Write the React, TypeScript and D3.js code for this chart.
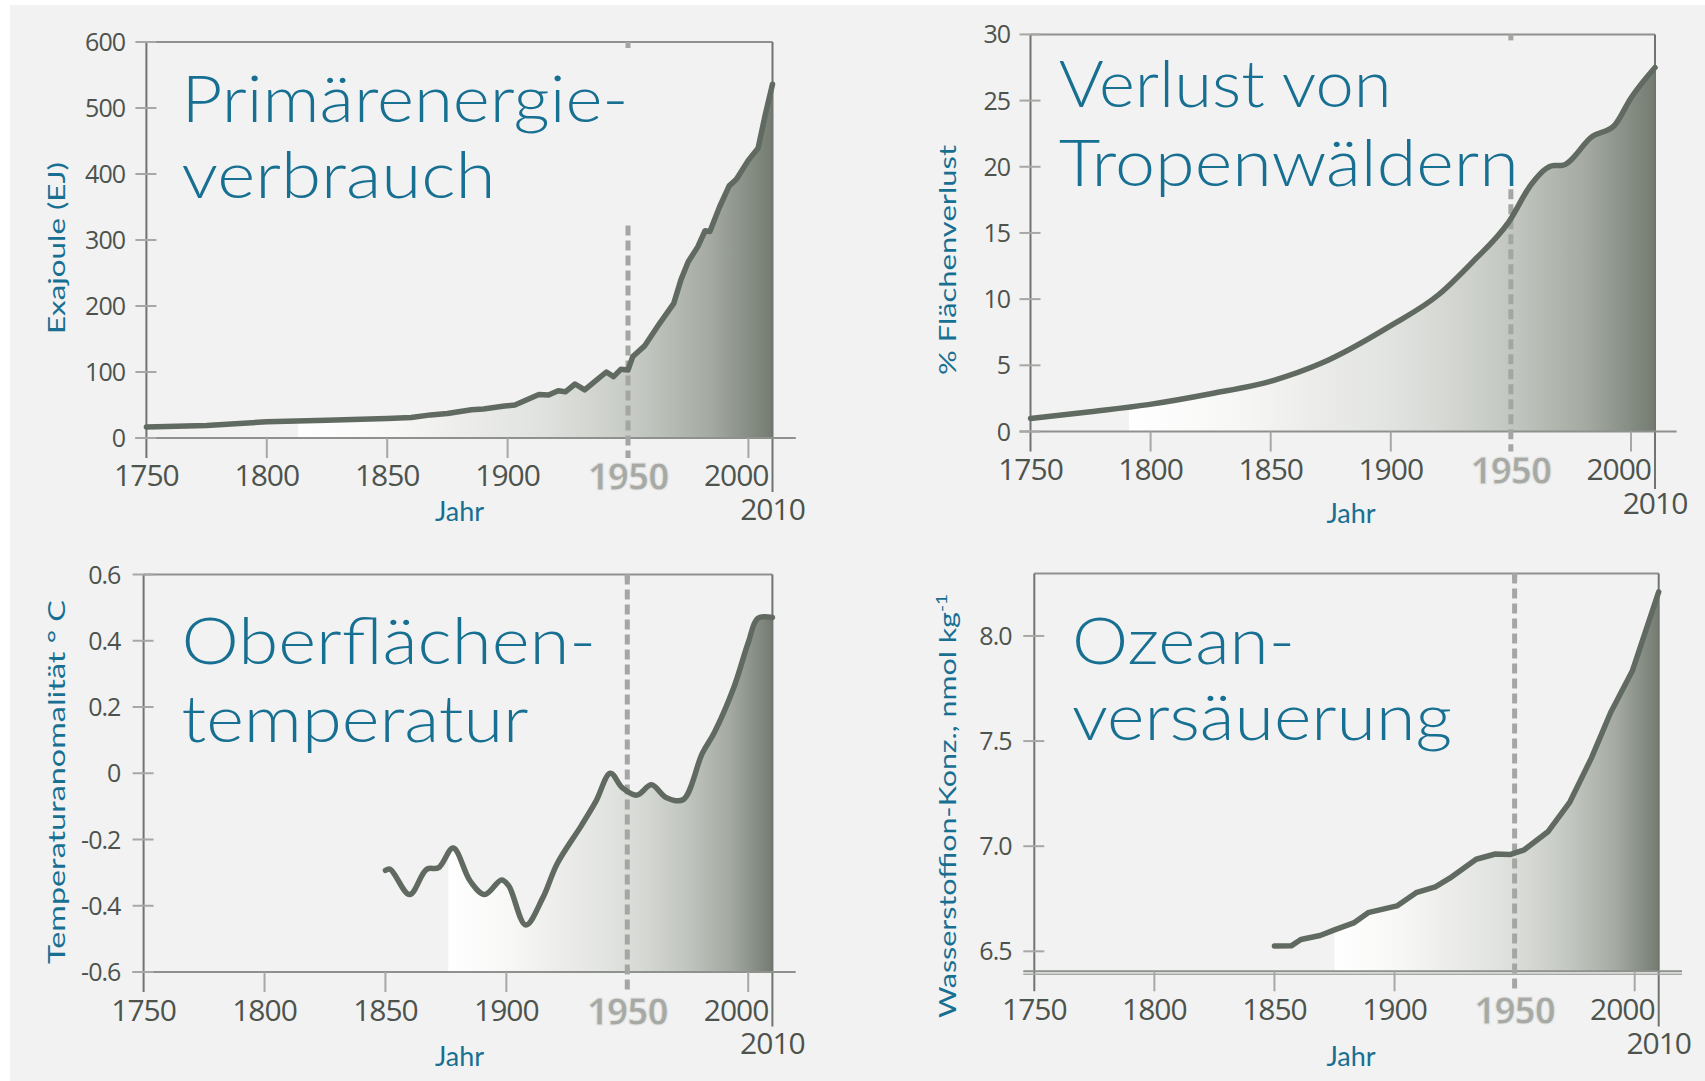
import React from 'react';
import * as d3 from 'd3';

// Primärenergieverbrauch (EJ)
const energyData: [number, number][] = [
  [1750, 16.7], [1775, 19], [1800, 24.5], [1825, 27], [1850, 29.7], [1860, 31],
  [1868, 35], [1875, 37], [1885, 42.7], [1890, 44], [1898, 48], [1903, 50],
  [1908, 58], [1913, 66], [1917, 65], [1921, 71.5], [1924, 70], [1928, 81.8],
  [1932, 73], [1936, 85], [1941, 100], [1944, 93], [1947, 104], [1950, 103],
  [1952, 123.6], [1957, 140], [1963, 173], [1969, 204], [1972, 240], [1975, 267],
  [1979, 290], [1982, 314], [1984, 313], [1988, 350], [1992, 382], [1995, 392],
  [2000, 421], [2004, 439], [2007, 490], [2010, 536],
];

// Verlust von Tropenwäldern (%)
const forestData: [number, number][] = [
  [1750, 0.99], [1775, 1.5], [1799, 2.03], [1825, 2.85], [1851, 3.85], [1871, 5.15],
  [1900, 8.0], [1920, 10.35], [1934, 12.8], [1949, 15.8], [1959, 18.8], [1968, 20.1],
  [1971, 20.1], [1984, 22.3], [1993, 23.1], [2000, 25.2], [2010, 27.5],
];

// Oberflächentemperatur (°C)
const tempData: [number, number][] = [
  [1850, -0.293], [1852, -0.29], [1860, -0.366], [1867, -0.29], [1872, -0.285],
  [1878, -0.226], [1885, -0.325], [1891, -0.366], [1898, -0.322], [1901, -0.34],
  [1908, -0.458], [1915, -0.377], [1921, -0.273], [1931, -0.158], [1937, -0.085],
  [1943, 0.0], [1948, -0.044], [1954, -0.066], [1960, -0.035], [1966, -0.073],
  [1973, -0.08], [1981, 0.06], [1986, 0.123], [1994, 0.258], [2000, 0.394],
  [2004, 0.468], [2010, 0.47],
];

// Ozeanversäuerung (nmol kg-1)
const oceanData: [number, number][] = [
  [1850, 6.525], [1857, 6.526], [1861, 6.556], [1869, 6.575], [1875, 6.602],
  [1883, 6.635], [1889, 6.684], [1901, 6.716], [1909, 6.779], [1917, 6.807],
  [1923, 6.848], [1934, 6.938], [1942, 6.963], [1948, 6.96], [1954, 6.983],
  [1964, 7.07], [1973, 7.21], [1982, 7.42], [1990, 7.636], [1999, 7.833], [2010, 8.21],
];

const xTicks = [1750, 1800, 1850, 1900, 1950, 2000];
const energyTicks = [0, 100, 200, 300, 400, 500, 600];
const forestTicks = [0, 5, 10, 15, 20, 25, 30];
const tempTicks = [-0.6, -0.4, -0.2, 0, 0.2, 0.4, 0.6];
const tempTickLabels = ['-0.6', '-0.4', '-0.2', '0', '0.2', '0.4', '0.6'];
const oceanTicks = [6.5, 7.0, 7.5, 8.0];

// fill gradient, relative position from fill start (0) to 2010 (1)
const gradStops: [number, string][] = [
  [0, '#ffffff'], [0.2, '#f7f7f6'], [0.5, '#e1e3e0'], [0.6, '#d5d8d3'],
  [0.73, '#c2c6c0'], [0.87, '#a4aaa2'], [1, '#747c72'],
];

const BLUE = '#176f92';
const NUM = '#4d534d';
const NUM_FONT = '"Open Sans", sans-serif';
const TITLE_FONT = 'Lato, sans-serif';

type Cfg = {
  id: string;
  data: [number, number][];
  xRange: [number, number];
  yDomain: [number, number];
  yRange: [number, number];
  yTicks: number[];
  yLabels: string[];
  labelRight: number;
  fillStart: number;
  dashFrom: number | null;
  curve: d3.CurveFactory;
  title: string[];
  titleX: number;
  titleY: number[];
  titleLen: number[];
  yLabel: React.ReactNode;
  yLabelPos: [number, number];
  yLabelLen: number;
  xLabelY: number;
  labelY2010: number;
  jahrX: number;
  jahrY: number;
  rightBottom: number;
  axisEnd: number;
  doubleBase?: boolean;
};

function Panel({ c }: { c: Cfg }) {
  const x = d3.scaleLinear().domain([1750, 2010]).range(c.xRange);
  const y = d3.scaleLinear().domain(c.yDomain).range(c.yRange);
  const base = c.yRange[0];
  const top = c.yRange[1];
  const x0 = c.xRange[0];
  const xR = x(2010);

  const line = d3.line<[number, number]>().x(d => x(d[0])).y(d => y(d[1])).curve(c.curve);
  const area = d3.area<[number, number]>().x(d => x(d[0])).y0(base).y1(d => y(d[1])).curve(c.curve);

  const dashTop = c.dashFrom === null ? top : y(c.dashFrom);

  return (
    <g>
      <defs>
        <linearGradient id={`g-${c.id}`} gradientUnits="userSpaceOnUse" x1={x(c.fillStart)} x2={x(2010)}
          y1={0} y2={0}>
          {gradStops.map(([o, col]) => (
            <stop key={o} offset={o} stopColor={col} />
          ))}
        </linearGradient>
        <clipPath id={`c-${c.id}`}>
          <rect x={x(c.fillStart)} y={top} width={xR - x(c.fillStart)} height={base - top} />
        </clipPath>
      </defs>

      {/* fill */}
      <path d={area(c.data) || ''} fill={`url(#g-${c.id})`} clipPath={`url(#c-${c.id})`} />

      {/* frame */}
      <line x1={x0} x2={xR} y1={top} y2={top} stroke="#8e918d" strokeWidth={2} />
      <line x1={xR} x2={xR} y1={top} y2={c.rightBottom} stroke="#6f746e" strokeWidth={2} />
      <line x1={x0} x2={x0} y1={top} y2={base + 20} stroke="#6f746e" strokeWidth={2} />
      <line x1={x0 - 11} x2={c.axisEnd} y1={base} y2={base} stroke="#8e918d" strokeWidth={2} />
      {c.doubleBase && (
        <line x1={x0 - 11} x2={c.axisEnd} y1={base + 3} y2={base + 3} stroke="#a6a9a5" strokeWidth={1.5} />
      )}

      {/* y ticks */}
      {c.yTicks.map((t, i) => (
        <g key={t}>
          <line x1={x0 - 11} x2={x0 + 10} y1={y(t)} y2={y(t)} stroke="#a5a8a4" strokeWidth={2} />
          <text x={c.labelRight} y={y(t)} dy="0.36em" textAnchor="end" fontFamily={NUM_FONT}
            fontSize={25} fill={NUM} letterSpacing={-1}>{c.yLabels[i]}</text>
        </g>
      ))}

      {/* x ticks */}
      {xTicks.filter(t => t !== 1750 && t !== 1950).map(t => (
        <line key={t} x1={x(t)} x2={x(t)} y1={base} y2={base + 20} stroke="#a5a8a4" strokeWidth={2} />
      ))}

      {/* 1950 dashed marker */}
      <line x1={x(1950)} x2={x(1950)} y1={top} y2={top + 6} stroke="#a4a6a3" strokeWidth={5} />
      <line x1={x(1950)} x2={x(1950)} y1={dashTop} y2={base + 20} stroke="#a4a6a3" strokeWidth={5}
        strokeDasharray="10 5" />

      {/* curve */}
      <path d={line(c.data) || ''} fill="none" stroke="#616a60" strokeWidth={5.5} strokeLinejoin="round"
        strokeLinecap="round" />

      {/* x labels */}
      {xTicks.map(t => {
        if (t === 1950) {
          return (
            <text key={t} x={x(t)} y={c.xLabelY + 4} textAnchor="middle" fontFamily={NUM_FONT}
              fontWeight={700} fontSize={37} fill="#a6a9a4" stroke="#e4e5e3" strokeWidth={1}
              letterSpacing={-1}>{t}</text>
          );
        }
        if (t === 2000) {
          return (
            <text key={t} x={xR - 4} y={c.xLabelY} textAnchor="end" fontFamily={NUM_FONT}
              fontSize={30} fill={NUM} letterSpacing={-1}>{t}</text>
          );
        }
        return (
          <text key={t} x={x(t)} y={c.xLabelY} textAnchor="middle" fontFamily={NUM_FONT}
            fontSize={30} fill={NUM} letterSpacing={-1}>{t}</text>
        );
      })}
      <text x={xR} y={c.labelY2010} textAnchor="middle" fontFamily={NUM_FONT} fontSize={30} fill={NUM}
        letterSpacing={-1}>2010</text>

      <text x={c.jahrX} y={c.jahrY} textAnchor="middle" fontFamily={TITLE_FONT} fontSize={27} fill={BLUE}>
        Jahr
      </text>

      {/* title */}
      {c.title.map((s, i) => (
        <text key={i} x={c.titleX} y={c.titleY[i]} fontFamily={TITLE_FONT} fontWeight={300} fontSize={65}
          fill={BLUE} textLength={c.titleLen[i]} lengthAdjust="spacingAndGlyphs">{s}</text>
      ))}

      {/* y label */}
      <text transform={`translate(${c.yLabelPos[0]},${c.yLabelPos[1]}) rotate(-90)`} textAnchor="middle"
        dy="0.35em" fontFamily={TITLE_FONT} fontSize={24} fill={BLUE} textLength={c.yLabelLen}
        lengthAdjust="spacingAndGlyphs">{c.yLabel}</text>
    </g>
  );
}

const panels: Cfg[] = [
  {
    id: 'energy', data: energyData, xRange: [146.4, 772.5], yDomain: [0, 600], yRange: [438, 42],
    yTicks: energyTicks, yLabels: energyTicks.map(String), labelRight: 125, fillStart: 1813,
    dashFrom: 322, curve: d3.curveLinear,
    title: ['Primärenergie-', 'verbrauch'], titleX: 181.6, titleY: [121.7, 198.3], titleLen: [447, 314],
    yLabel: 'Exajoule (EJ)', yLabelPos: [57, 248], yLabelLen: 172,
    xLabelY: 486, labelY2010: 520, jahrX: 459.6, jahrY: 521, rightBottom: 492, axisEnd: 795.8,
  },
  {
    id: 'forest', data: forestData, xRange: [1030.5, 1655], yDomain: [0, 30], yRange: [431.5, 34.4],
    yTicks: forestTicks, yLabels: forestTicks.map(String), labelRight: 1010, fillStart: 1791,
    dashFrom: 18.3, curve: d3.curveMonotoneX,
    title: ['Verlust von', 'Tropenwäldern'], titleX: 1058.7, titleY: [107.4, 186], titleLen: [333, 460],
    yLabel: '% Flächenverlust', yLabelPos: [947.6, 260], yLabelLen: 230,
    xLabelY: 480, labelY2010: 514, jahrX: 1351, jahrY: 523, rightBottom: 489, axisEnd: 1676.6,
  },
  {
    id: 'temp', data: tempData, xRange: [143.6, 772.4], yDomain: [-0.6, 0.6], yRange: [972, 574.5],
    yTicks: tempTicks, yLabels: tempTickLabels, labelRight: 120.3, fillStart: 1876,
    dashFrom: null, curve: d3.curveCatmullRom,
    title: ['Oberflächen-', 'temperatur'], titleX: 181.6, titleY: [664, 742], titleLen: [414.6, 347],
    yLabel: 'Temperaturanomalität ° C', yLabelPos: [57, 782], yLabelLen: 364,
    xLabelY: 1021, labelY2010: 1054, jahrX: 459.6, jahrY: 1066, rightBottom: 1026.5, axisEnd: 795.7,
  },
  {
    id: 'ocean', data: oceanData, xRange: [1034.3, 1658.7], yDomain: [6.405, 8.297], yRange: [971.3, 573.5],
    yTicks: oceanTicks, yLabels: oceanTicks.map(d => d.toFixed(1)), labelRight: 1011.5, fillStart: 1875,
    dashFrom: null, curve: d3.curveLinear,
    title: ['Ozean-', 'versäuerung'], titleX: 1072, titleY: [664, 740], titleLen: [223, 380],
    yLabel: (
      <>
        Wasserstoffion-Konz., nmol kg<tspan dy="-9" fontSize={15}>-1</tspan>
      </>
    ),
    yLabelPos: [947.6, 806], yLabelLen: 424,
    xLabelY: 1019.6, labelY2010: 1054, jahrX: 1351, jahrY: 1066, rightBottom: 1026.5, axisEnd: 1682,
    doubleBase: true,
  },
];

export default function App() {
  const W = 1705;
  const H = 1081;
  return (
    <div style={{ position: 'absolute', left: 0, top: 0 }}>
      <svg width={W} height={H} viewBox={`0 0 ${W} ${H}`} style={{ display: 'block' }}>
        <rect x={0} y={0} width={W} height={H} fill="#ffffff" />
        <rect x={10} y={5} width={W - 10} height={H - 5} fill="#f2f2f2" />
        {panels.map(p => <Panel key={p.id} c={p} />)}
      </svg>
    </div>
  );
}
